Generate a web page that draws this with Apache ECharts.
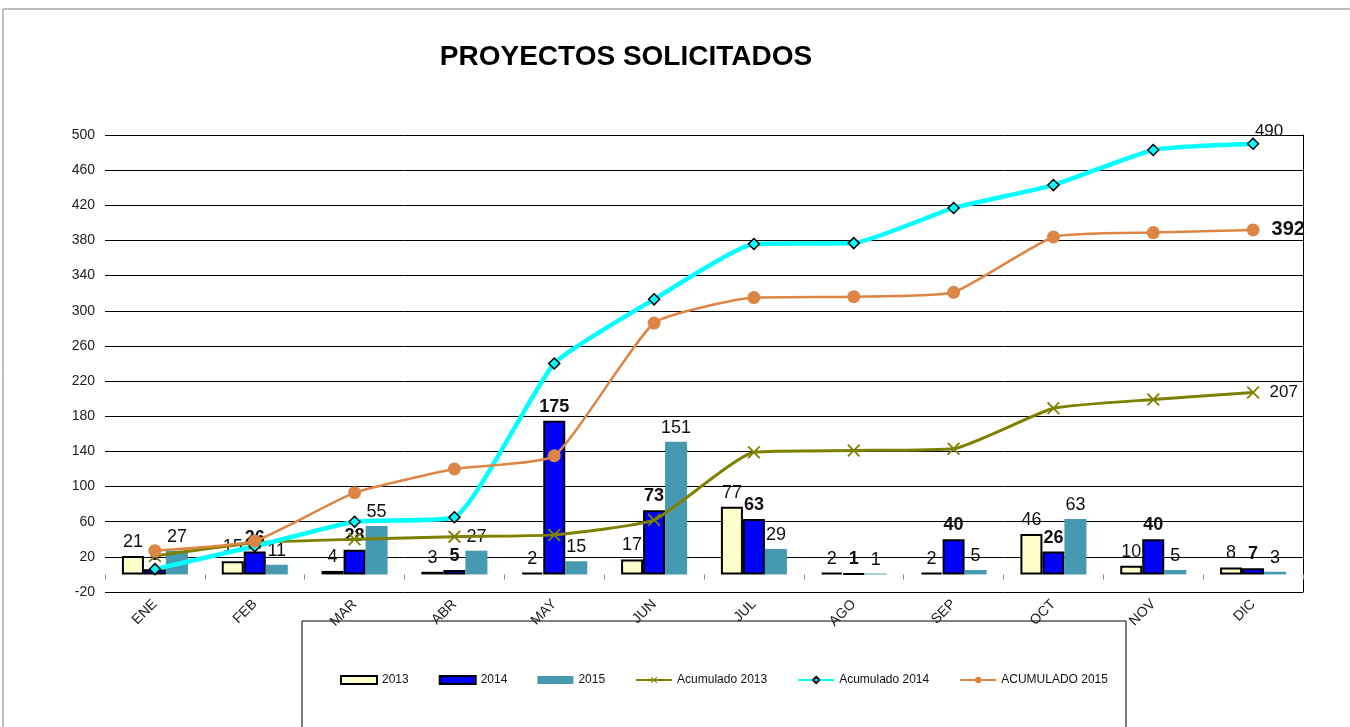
<!DOCTYPE html>
<html>
<head>
<meta charset="utf-8">
<title>PROYECTOS SOLICITADOS</title>
<script src="https://cdn.jsdelivr.net/npm/echarts@6/dist/echarts.min.js"></script>
<style>
    html, body { margin: 0; padding: 0; background: #fff; }
    #chart { width: 1350px; height: 727px; }
</style>
</head>
<body>
<div id="chart"></div>
<script>
    // datos
    var months = ['ENE', 'FEB', 'MAR', 'ABR', 'MAY', 'JUN', 'JUL', 'AGO', 'SEP', 'OCT', 'NOV', 'DIC'];
    var v2013 = [21, 15, 4, 3, 2, 17, 77, 2, 2, 46, 10, 8];
    var v2014 = [6, 26, 28, 5, 175, 73, 63, 1, 40, 26, 40, 7];
    var v2015 = [27, 11, 55, 27, 15, 151, 29, 1, 5, 63, 5, 3];
    var acum2013 = [21, 36, 40, 43, 45, 62, 139, 141, 143, 189, 199, 207];
    var acum2014 = [6, 32, 60, 65, 240, 313, 376, 377, 417, 443, 483, 490];
    var acum2015 = [27, 38, 93, 120, 135, 286, 315, 316, 321, 384, 389, 392];
    var yTicks = { min: -20, max: 500, step: 40 };

    var font = "'Liberation Sans', Arial, sans-serif";
    var chart = echarts.init(document.getElementById('chart'));

    // etiqueta solo en el ultimo punto
    function lastOnly(p) {
        return p.dataIndex === months.length - 1 ? p.value : '';
    }

    var barLabel = {
        show: true,
        position: 'top',
        distance: 5,
        fontFamily: font,
        fontSize: 18,
        color: '#111'
    };

    var xMark = 'path://M0,1L1,0L5,4L9,0L10,1L6,5L10,9L9,10L5,6L1,10L0,9L4,5Z';

    chart.setOption({
        animation: false,
        textStyle: { fontFamily: font },
        title: {
            text: 'PROYECTOS SOLICITADOS',
            left: 621,
            top: 38,
            textAlign: 'center',
            textStyle: { fontFamily: font, fontSize: 28, fontWeight: 'bold', color: '#000' }
        },
        graphic: [
            { type: 'rect', shape: { x: 3, y: 9, width: 1400, height: 800 }, style: { fill: 'none', stroke: '#808080', lineWidth: 1 }, silent: true },
            { type: 'rect', shape: { x: 302, y: 621, width: 824, height: 200 }, style: { fill: 'none', stroke: '#000', lineWidth: 1 }, silent: true }
        ],
        legend: {
            left: 335,
            top: 669,
            itemWidth: 36,
            itemHeight: 8,
            itemGap: 30,
            textStyle: { fontFamily: font, fontSize: 12, color: '#111' },
            data: [
                { name: '2013', icon: 'rect' },
                { name: '2014', icon: 'rect' },
                { name: '2015', icon: 'rect' },
                'Acumulado 2013', 'Acumulado 2014', 'ACUMULADO 2015'
            ]
        },
        grid: { left: 105, right: 47, top: 135, bottom: 135, containLabel: false },
        xAxis: {
            type: 'category',
            data: months,
            axisLine: { show: true, onZero: true, lineStyle: { color: 'transparent' } },
            axisTick: { show: true, length: 5, lineStyle: { color: '#888' } },
            axisLabel: { rotate: 45, margin: 10, fontSize: 14, color: '#222', fontFamily: font },
            splitLine: { show: false }
        },
        yAxis: [{
            type: 'value',
            min: yTicks.min,
            max: yTicks.max,
            interval: yTicks.step,
            axisLine: { show: false },
            axisTick: { show: false },
            axisLabel: { fontSize: 14, color: '#222', margin: 10, fontFamily: font },
            splitLine: { lineStyle: { color: '#000', width: 1 } }
        }, {
            type: 'value',
            position: 'right',
            min: yTicks.min,
            max: yTicks.max,
            interval: yTicks.step,
            axisLine: { show: true, lineStyle: { color: '#000', width: 1 } },
            axisTick: { show: false },
            axisLabel: { show: false },
            splitLine: { show: false }
        }],
        series: [{
            name: '2013',
            type: 'bar',
            data: v2013,
            barWidth: 22,
            barGap: '0%',
            itemStyle: { color: '#FFFFCC', borderColor: '#000', borderWidth: 2 },
            label: barLabel
        }, {
            name: '2014',
            type: 'bar',
            data: v2014,
            barWidth: 22,
            barGap: '0%',
            itemStyle: { color: '#0000FF', borderColor: '#000', borderWidth: 2 },
            label: Object.assign({}, barLabel, { fontWeight: 'bold' })
        }, {
            name: '2015',
            type: 'bar',
            data: v2015,
            barWidth: 22,
            barGap: '0%',
            itemStyle: { color: '#4599B1' },
            label: barLabel
        }, {
            name: 'Acumulado 2013',
            type: 'line',
            data: acum2013,
            smooth: 0.15,
            symbol: xMark,
            symbolSize: 13,
            lineStyle: { color: '#808000', width: 3 },
            itemStyle: { color: '#808000' },
            label: { show: true, position: 'right', distance: 10, formatter: lastOnly, fontSize: 17, color: '#111', fontFamily: font }
        }, {
            name: 'Acumulado 2014',
            type: 'line',
            data: acum2014,
            smooth: 0.15,
            symbol: 'diamond',
            symbolSize: 11,
            lineStyle: { color: '#00FFFF', width: 4.5 },
            itemStyle: { color: '#00FFFF', borderColor: '#000', borderWidth: 1.5 },
            label: { show: true, position: 'top', distance: 2, offset: [16, 4], formatter: lastOnly, fontSize: 17, color: '#111', fontFamily: font }
        }, {
            name: 'ACUMULADO 2015',
            type: 'line',
            data: acum2015,
            smooth: 0.15,
            symbol: 'circle',
            symbolSize: 13,
            lineStyle: { color: '#DC8544', width: 2.5 },
            itemStyle: { color: '#DC8544' },
            label: { show: true, position: 'right', distance: 12, formatter: lastOnly, fontSize: 20, fontWeight: 'bold', color: '#111', fontFamily: font }
        }]
    });

    window.addEventListener('resize', chart.resize);
</script>
</body>
</html>
